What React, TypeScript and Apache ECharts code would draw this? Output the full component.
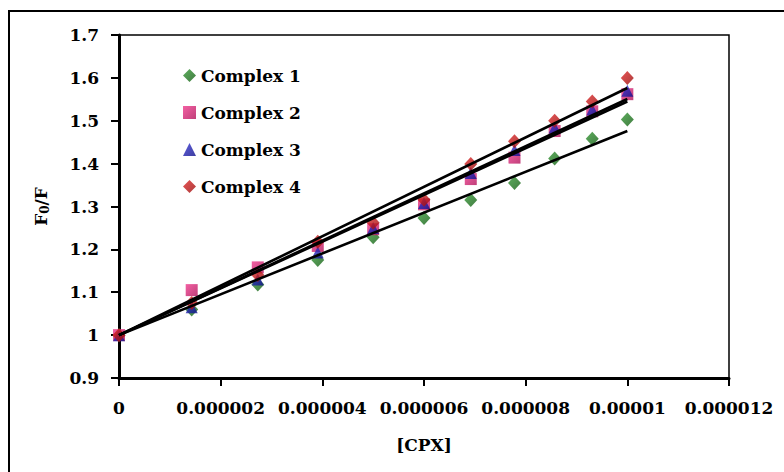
import React, { useEffect, useRef } from "react";
import * as echarts from "echarts";

const concentrations = [0, 1.43e-6, 2.73e-6, 3.91e-6, 5.0e-6, 6.0e-6, 6.92e-6, 7.78e-6, 8.57e-6, 9.31e-6, 1.0e-5];
const complex1 = [1.0, 1.06, 1.118, 1.175, 1.228, 1.273, 1.315, 1.355, 1.412, 1.458, 1.503];
const complex2 = [1.0, 1.105, 1.158, 1.208, 1.247, 1.305, 1.364, 1.414, 1.476, 1.522, 1.562];
const complex3 = [1.0, 1.065, 1.13, 1.193, 1.25, 1.308, 1.378, 1.432, 1.484, 1.526, 1.57];
const complex4 = [1.0, 1.075, 1.14, 1.218, 1.262, 1.316, 1.399, 1.452, 1.5, 1.545, 1.6];
const seriesNames = ["Complex 1", "Complex 2", "Complex 3", "Complex 4"];
const seriesSymbols = ["diamond", "rect", "triangle", "diamond"];
const seriesColorsLight = ["#349834", "#f0388c", "#3434d4", "#e02828"];
const seriesColorsDark = ["#125c12", "#b01058", "#0e0e88", "#980a0a"];
const trendIntercept = 1;

const FONT = "DejaVu Serif";

function fitSlope(xs: number[], ys: number[], b: number) {
  let num = 0;
  let den = 0;
  xs.forEach((x, i) => {
    num += x * (ys[i] - b);
    den += x * x;
  });
  return num / den;
}

function grad(i: number) {
  return new echarts.graphic.LinearGradient(0, 0, 1, 1, [
    { offset: 0, color: seriesColorsLight[i] },
    { offset: 1, color: seriesColorsDark[i] },
  ]);
}

export default function App() {
  const ref = useRef<HTMLDivElement>(null);
  useEffect(() => {
    if (!ref.current) return;
    const chart = echarts.init(ref.current, null, { renderer: "svg" });
    const allData = [complex1, complex2, complex3, complex4];
    const xMax = concentrations[concentrations.length - 1];
    const scatter = allData.map((ys, i) => ({
      name: seriesNames[i],
      type: "scatter",
      symbol: seriesSymbols[i],
      symbolSize: seriesSymbols[i] === "diamond" ? [13, 14] : 12,
      itemStyle: { color: grad(i) },
      data: concentrations.map((x, j) => [x, ys[j]]),
      z: 2,
    }));
    const trends = allData.map((ys, i) => {
      const m = fitSlope(concentrations, ys, trendIntercept);
      return {
        name: "trend" + i,
        type: "line",
        showSymbol: false,
        symbol: "none",
        silent: true,
        lineStyle: { color: "#000", width: 2.6 },
        data: [
          [0, trendIntercept],
          [xMax, trendIntercept + m * xMax],
        ],
        z: 3,
      };
    });
    const fmtX = (v: number) => String(parseFloat(v.toPrecision(6)));
    chart.setOption({
      animation: false,
      backgroundColor: "#fff",
      textStyle: { fontFamily: FONT },
      grid: {
        left: 119,
        top: 35,
        right: 55,
        bottom: 94,
        show: true,
        borderColor: "#000",
        borderWidth: 1.5,
        backgroundColor: "transparent",
      },
      legend: {
        orient: "vertical",
        left: 178,
        top: 62,
        itemWidth: 13,
        itemHeight: 13,
        itemGap: 20,
        data: seriesNames.map((n, i) => ({ name: n, icon: seriesSymbols[i] })),
        textStyle: { fontFamily: FONT, fontWeight: "bold", fontSize: 17, color: "#000", lineHeight: 17 },
      },
      xAxis: {
        type: "value",
        min: 0,
        max: 1.2e-5,
        interval: 2e-6,
        name: "[CPX]",
        nameLocation: "middle",
        nameGap: 58,
        nameTextStyle: { fontFamily: FONT, fontWeight: "bold", fontSize: 17, color: "#000" },
        axisLine: { lineStyle: { color: "#000", width: 3 } },
        axisTick: { show: true, length: 8, inside: false, lineStyle: { color: "#000", width: 2 } },
        axisLabel: { formatter: fmtX, fontFamily: FONT, fontWeight: "bold", fontSize: 17, color: "#000", margin: 21 },
        splitLine: { show: false },
      },
      yAxis: {
        type: "value",
        min: 0.9,
        max: 1.7,
        interval: 0.1,
        name: "{a|F}{s|0}{a|/F}",
        nameLocation: "middle",
        nameRotate: 90,
        nameGap: 68,
        nameTextStyle: {
          rich: {
            a: { fontFamily: FONT, fontWeight: "bold", fontSize: 17, color: "#000" },
            s: { fontFamily: FONT, fontWeight: "bold", fontSize: 12, color: "#000", verticalAlign: "bottom", padding: [8, 0, 0, 0] },
          },
        },
        axisLine: { show: true, lineStyle: { color: "#000", width: 3 } },
        axisTick: { show: true, length: 8, inside: false, lineStyle: { color: "#000", width: 2 } },
        axisLabel: {
          formatter: (v: number) => String(parseFloat(v.toFixed(2))),
          fontFamily: FONT,
          fontWeight: "bold",
          fontSize: 17,
          color: "#000",
          margin: 20,
        },
        splitLine: { show: false },
      },
      graphic: [
        {
          type: "rect",
          shape: { x: 9, y: 11, width: 900, height: 600 },
          style: { fill: "none", stroke: "#000", lineWidth: 2 },
          silent: true,
          z: -1,
        },
      ],
      series: [...scatter, ...trends],
    });
    return () => chart.dispose();
  }, []);
  return <div ref={ref} style={{ width: 784, height: 472, position: "absolute", left: 0, top: 0 }} />;
}
